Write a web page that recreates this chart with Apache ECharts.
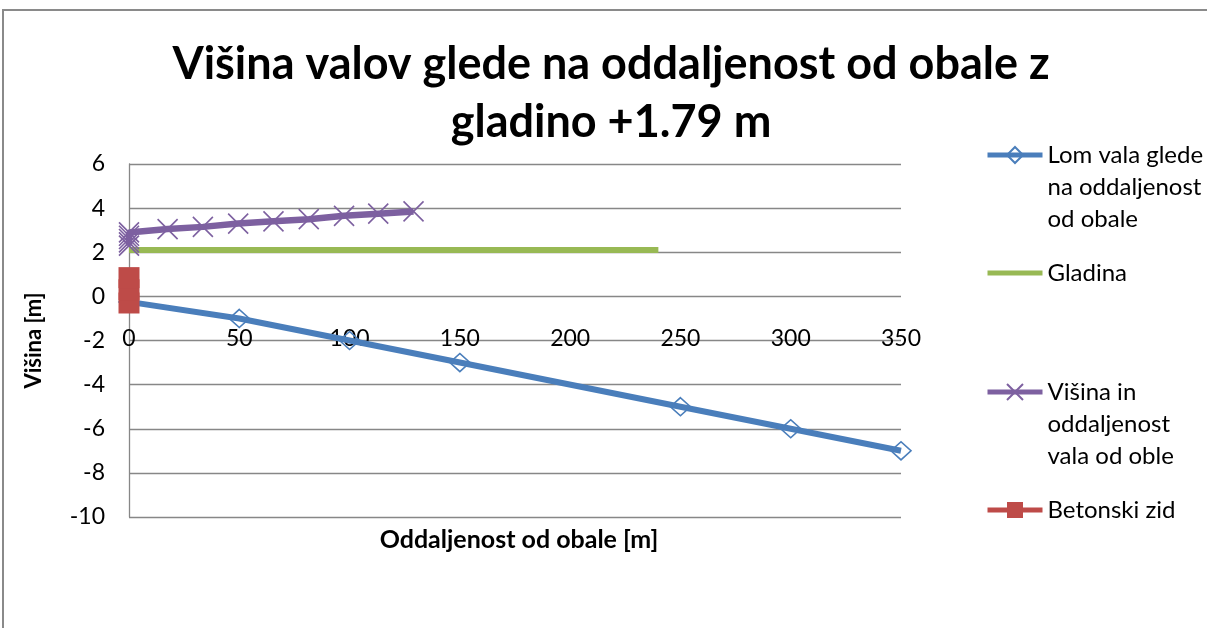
<!DOCTYPE html>
<html>
<head>
<meta charset="utf-8">
<script src="https://cdn.jsdelivr.net/npm/echarts@6/dist/echarts.min.js"></script>
<style>
  html, body { margin: 0; padding: 0; background: #ffffff; }
  #chart { width: 1207px; height: 628px; }
</style>
</head>
<body>
<div id="chart"></div>
<script>
// Wave refraction profile: distance from shore [m] vs. elevation [m]
const lomValaX = [0, 50, 100, 150, 250, 300, 350];
const lomValaY = [-0.25, -1, -2, -3, -5, -6, -7];

const gladinaX = [0, 240];
const gladinaY = [2.1, 2.1];

const visinaX = [0, 0, 0, 0, 0, 17.5, 33.5, 49.5, 65.5, 81.5, 97.5, 113, 129];
const visinaY = [2.3, 2.45, 2.6, 2.75, 2.9, 3.05, 3.15, 3.3, 3.4, 3.5, 3.65, 3.75, 3.85];

const zidX = [0, 0, 0];
const zidY = [-0.3, 0.3, 0.85];

const xTicks = { min: 0, max: 350, interval: 50 };
const yTicks = { min: -10, max: 6, interval: 2 };

const seriesNames = [
  'Lom vala glede\nna oddaljenost\nod obale',
  'Gladina',
  'Višina in\noddaljenost\nvala od oble',
  'Betonski zid'
];

const zipXY = (xs, ys) => xs.map((x, i) => [x, ys[i]]);

const FONT = 'Lato';
const BLUE = '#4a7ebb';
const GREEN = '#98b954';
const PURPLE = '#7d60a0';
const RED = '#be4b48';
const CROSS = 'path://M0,0L10,10M10,0L0,10';

const chart = echarts.init(document.getElementById('chart'), null, { renderer: 'canvas' });

// One legend block per series; multi-line names get leading blank lines so
// that the first line of text sits level with the legend icon.
function legendAt(name, top) {
  const lines = name.split('\n').length;
  return {
    show: true,
    data: [name],
    left: 985,
    top: top,
    padding: 0,
    itemWidth: 55,
    itemHeight: 20,
    itemGap: 0,
    selectedMode: false,
    lineStyle: { width: 5 },
    formatter: n => '\n'.repeat(lines - 1) + n,
    textStyle: {
      fontFamily: FONT,
      fontSize: 24,
      color: '#000',
      lineHeight: 32
    }
  };
}

const option = {
  backgroundColor: '#ffffff',
  animation: false,
  title: {
    text: 'Višina valov glede na oddaljenost od obale z\ngladino +1.79 m',
    left: 606,
    textAlign: 'center',
    top: 30,
    textStyle: {
      fontFamily: FONT,
      fontWeight: 'bold',
      fontSize: 45,
      lineHeight: 58,
      color: '#000'
    }
  },
  legend: [
    legendAt(seriesNames[0], 75),
    legendAt(seriesNames[1], 257),
    legendAt(seriesNames[2], 312),
    legendAt(seriesNames[3], 494)
  ],
  grid: { left: 129, right: 306, top: 164, bottom: 111, containLabel: false, outerBoundsMode: 'none' },
  xAxis: {
    type: 'value',
    min: xTicks.min,
    max: xTicks.max,
    interval: xTicks.interval,
    name: 'Oddaljenost od obale [m]',
    nameLocation: 'middle',
    nameGap: 10,
    nameTextStyle: { fontFamily: FONT, fontWeight: 'bold', fontSize: 25, color: '#000', padding: [0, 0, 0, 8] },
    axisLine: { show: false, onZero: false },
    axisTick: { show: false },
    // distance labels are drawn inside the plot, on the level of y = -2
    axisLabel: { inside: true, fontFamily: FONT, fontSize: 23, lineHeight: 24, color: '#000', margin: 166 },
    splitLine: { show: false }
  },
  yAxis: {
    type: 'value',
    min: yTicks.min,
    max: yTicks.max,
    interval: yTicks.interval,
    name: 'Višina [m]',
    nameLocation: 'middle',
    nameRotate: 90,
    nameGap: 84,
    nameTextStyle: { fontFamily: FONT, fontWeight: 'bold', fontSize: 22, color: '#000' },
    axisLine: { show: true, lineStyle: { color: '#878787', width: 1.3 } },
    axisTick: { show: false },
    axisLabel: { fontFamily: FONT, fontSize: 23, color: '#000', margin: 24 },
    splitLine: { show: true, lineStyle: { color: '#878787', width: 1.3 } }
  },
  series: [
    {
      name: seriesNames[0],
      type: 'line',
      data: zipXY(lomValaX, lomValaY),
      symbol: 'diamond',
      symbolSize: [20, 18],
      lineStyle: { color: BLUE, width: 6 },
      itemStyle: { color: 'rgba(255,255,255,0)', borderColor: BLUE, borderWidth: 1.6 },
      z: 2
    },
    {
      name: seriesNames[1],
      type: 'line',
      data: zipXY(gladinaX, gladinaY),
      symbol: 'none',
      lineStyle: { color: GREEN, width: 6 },
      itemStyle: { color: 'rgba(0,0,0,0)' },
      z: 3
    },
    {
      name: seriesNames[2],
      type: 'line',
      data: zipXY(visinaX, visinaY),
      symbol: CROSS,
      symbolSize: 20,
      lineStyle: { color: PURPLE, width: 6.5 },
      itemStyle: { color: 'rgba(0,0,0,0)', borderColor: PURPLE, borderWidth: 1.6 },
      z: 4
    },
    {
      name: seriesNames[3],
      type: 'line',
      data: zipXY(zidX, zidY),
      symbol: 'rect',
      symbolSize: 21,
      lineStyle: { color: RED, width: 4 },
      itemStyle: { color: RED },
      z: 5
    }
  ],
  graphic: [
    {
      type: 'rect',
      shape: { x: 3, y: 10, width: 1240, height: 660 },
      style: { fill: 'none', stroke: '#8a8a8a', lineWidth: 2 },
      silent: true,
      z: -1
    }
  ]
};

chart.setOption(option);
</script>
</body>
</html>
